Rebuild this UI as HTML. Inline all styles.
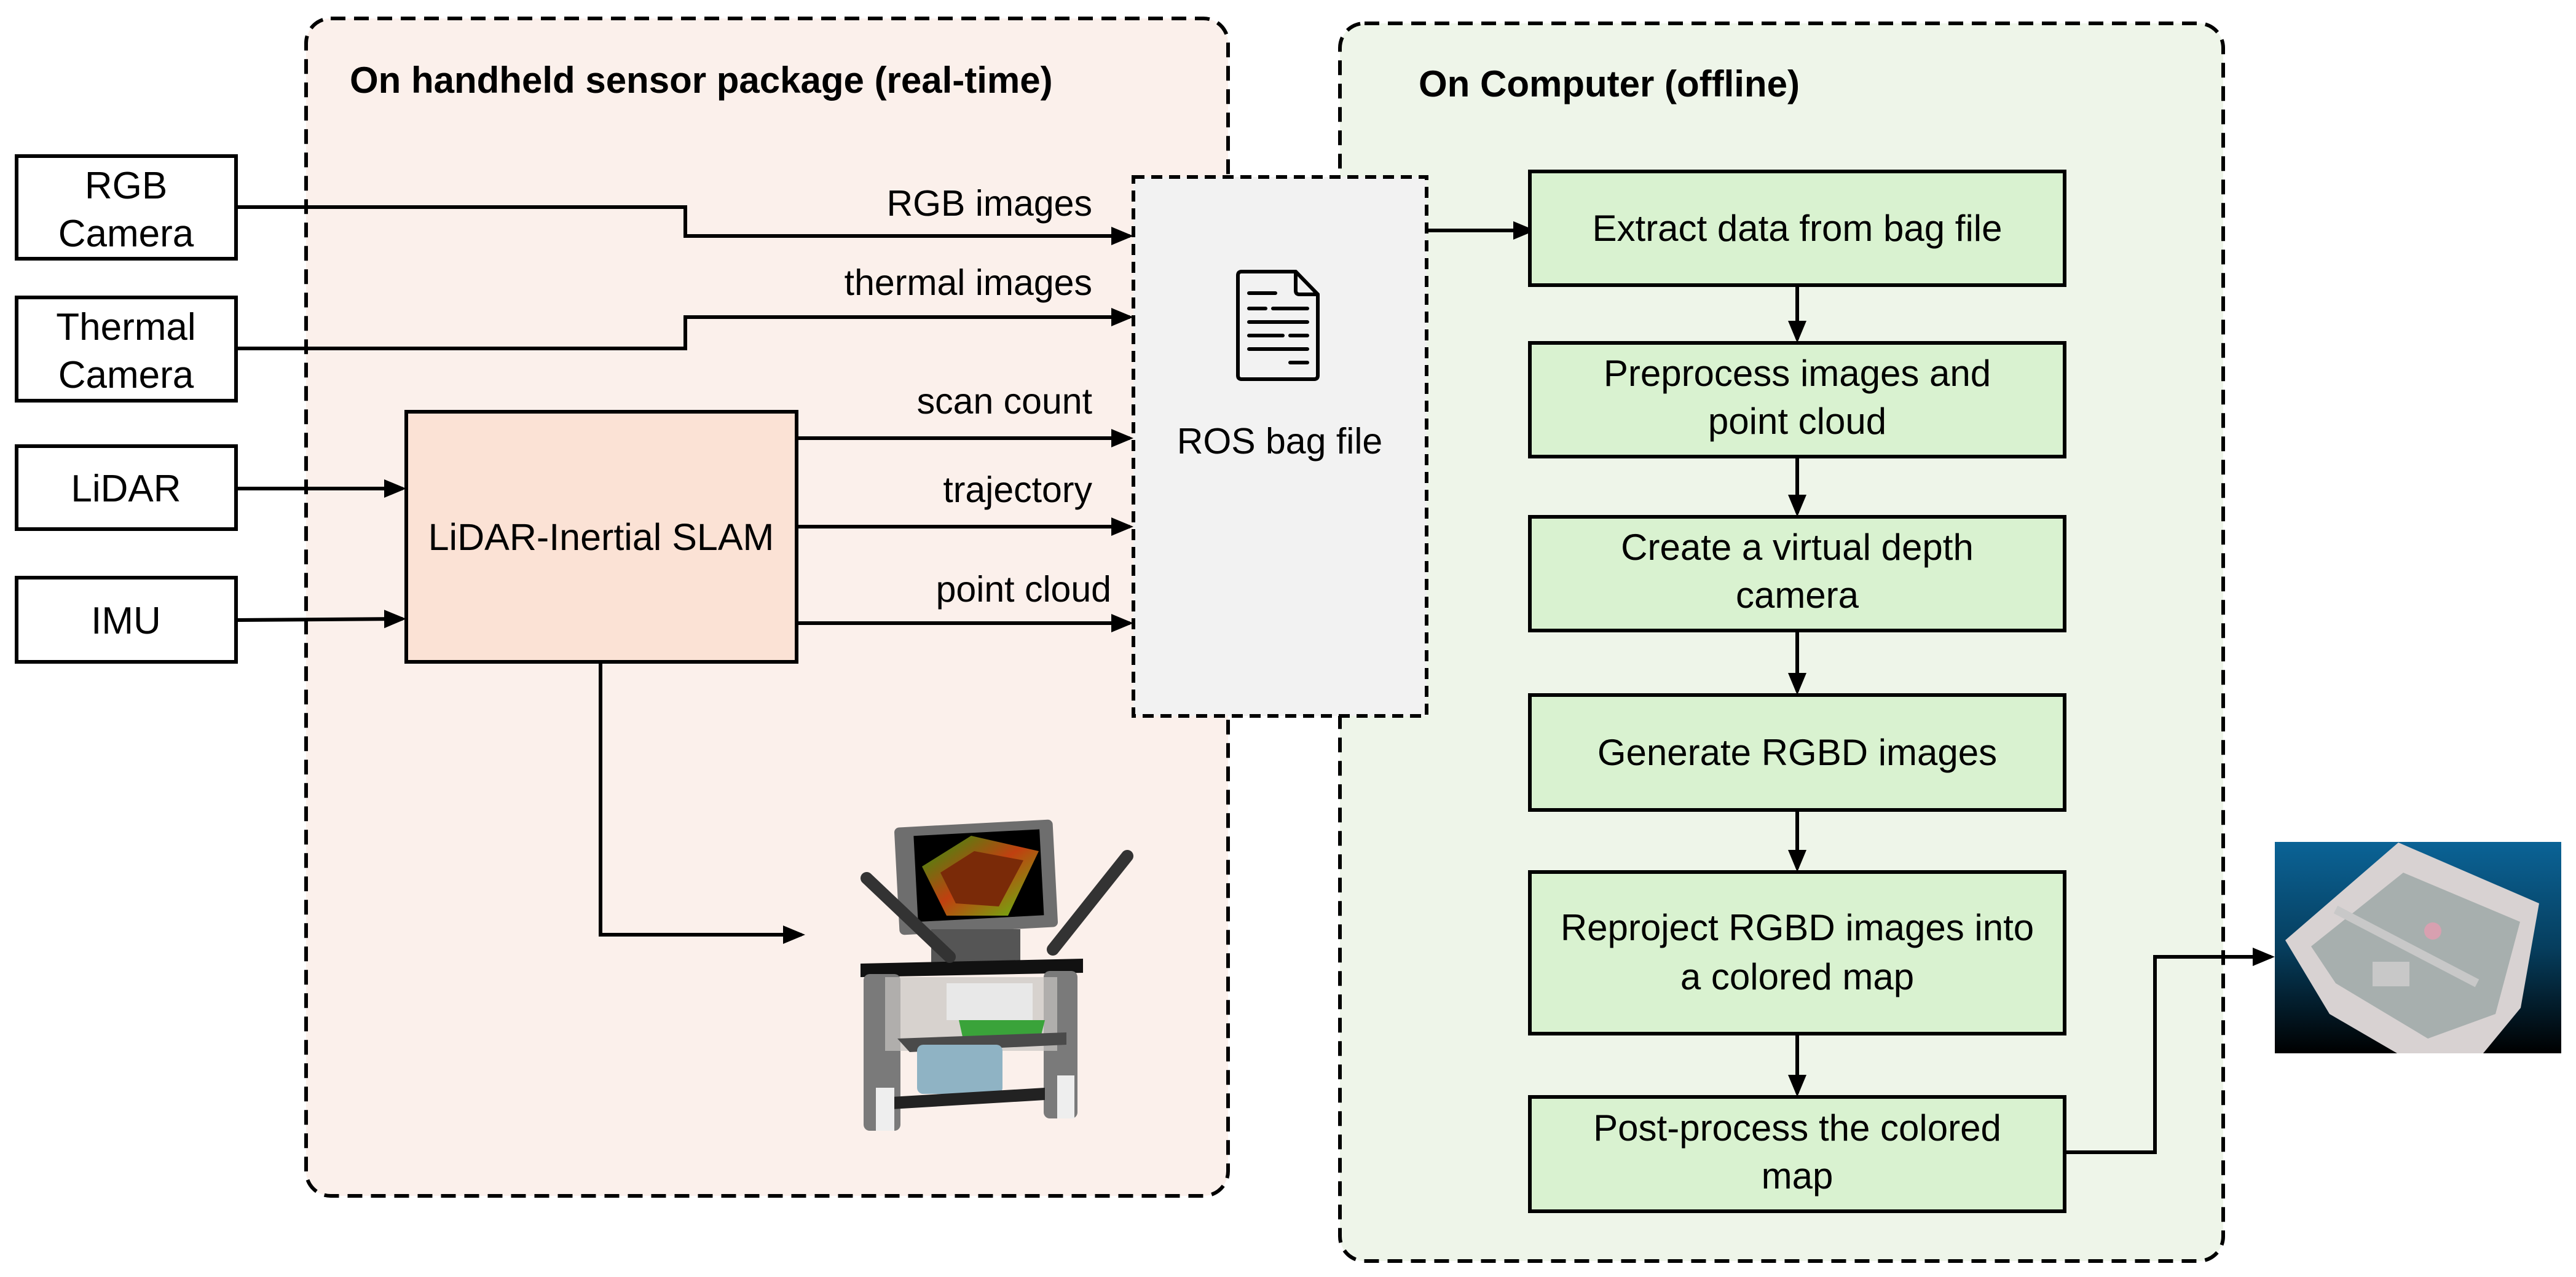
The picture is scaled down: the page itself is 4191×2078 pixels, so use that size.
<!DOCTYPE html>
<html><head><meta charset="utf-8"><style>
html,body{margin:0;padding:0;background:#fff}
svg{display:block}
text{font-family:"Liberation Sans",sans-serif;fill:#000}
</style></head><body>
<svg width="4191" height="2078" viewBox="0 0 4191 2078" xmlns="http://www.w3.org/2000/svg">
<defs>
<marker id="ah" markerWidth="6" markerHeight="6" refX="5" refY="3" orient="auto" markerUnits="strokeWidth">
<path d="M0,0.5 L6,3 L0,5.5 z" fill="#000"/>
</marker>
<linearGradient id="mapbg" x1="0" y1="0" x2="0" y2="1">
<stop offset="0" stop-color="#0b6396"/><stop offset="0.5" stop-color="#063e5e"/><stop offset="1" stop-color="#000"/>
</linearGradient>
<linearGradient id="scr" x1="0" y1="0" x2="1" y2="1">
<stop offset="0" stop-color="#2a9a10"/><stop offset="0.5" stop-color="#c04010"/><stop offset="1" stop-color="#60c010"/>
</linearGradient>
</defs>

<rect x="498" y="30" width="1500" height="1916" rx="40" fill="#fbf0eb" stroke="#000" stroke-width="6" stroke-dasharray="24,14"/>
<rect x="2180" y="38" width="1437" height="2014" rx="40" fill="#eef5e9" stroke="#000" stroke-width="6" stroke-dasharray="24,14"/>
<text x="569" y="151" font-size="60" font-weight="bold">On handheld sensor package (real-time)</text>
<text x="2308" y="157" font-size="60" font-weight="bold">On Computer (offline)</text>

<g fill="#fff" stroke="#000" stroke-width="6">
<rect x="27" y="254" width="357" height="167"/>
<rect x="27" y="484" width="357" height="168"/>
<rect x="27" y="726" width="357" height="135"/>
<rect x="27" y="940" width="357" height="137"/>
</g>
<g font-size="62" text-anchor="middle">
<text x="205" y="323">RGB</text><text x="205" y="401">Camera</text>
<text x="205" y="553">Thermal</text><text x="205" y="631">Camera</text>
<text x="205" y="816">LiDAR</text>
<text x="205" y="1031">IMU</text>
</g>

<rect x="661" y="670" width="635" height="407" fill="#fbe2d5" stroke="#000" stroke-width="6"/>
<text x="978" y="895" font-size="61" text-anchor="middle">LiDAR-Inertial SLAM</text>

<rect x="1844" y="288" width="477" height="877" fill="#f2f2f2" stroke="#000" stroke-width="6" stroke-dasharray="18,11"/>
<g fill="none" stroke="#000" stroke-width="6" stroke-linecap="round" stroke-linejoin="round">
<path d="M2020,442 L2108,442 L2144,479 L2144,611 Q2144,617 2138,617 L2020,617 Q2014,617 2014,611 L2014,448 Q2014,442 2020,442 Z"/>
<path d="M2108,442 L2108,473 Q2108,479 2114,479 L2144,479"/>
<path d="M2032,477 L2075,477 M2032,502 L2059,502 M2071,502 L2127,502 M2032,524 L2127,524 M2032,546 L2087,546 M2099,546 L2127,546 M2032,568 L2127,568 M2099,590 L2127,590"/>
</g>
<text x="2082" y="738" font-size="59" text-anchor="middle">ROS bag file</text>

<g fill="none" stroke="#000" stroke-width="6">
<path d="M384,337 L1115,337 L1115,384 L1838,384" marker-end="url(#ah)"/>
<path d="M384,567 L1115,567 L1115,516 L1838,516" marker-end="url(#ah)"/>
<path d="M1296,713 L1838,713" marker-end="url(#ah)"/>
<path d="M1296,857 L1838,857" marker-end="url(#ah)"/>
<path d="M1296,1014 L1838,1014" marker-end="url(#ah)"/>
<path d="M384,795 L655,795" marker-end="url(#ah)"/>
<path d="M384,1009 L655,1007" marker-end="url(#ah)"/>
<path d="M977,1077 L977,1521 L1304,1521" marker-end="url(#ah)"/>
<path d="M2321,375 L2492,375" marker-end="url(#ah)"/>
</g>
<g font-size="59" text-anchor="end">
<text x="1777" y="351">RGB images</text>
<text x="1777" y="480">thermal images</text>
<text x="1777" y="673">scan count</text>
<text x="1777" y="817">trajectory</text>
<text x="1808" y="979">point cloud</text>
</g>

<g fill="#d9f2d0" stroke="#000" stroke-width="6">
<rect x="2489" y="279" width="870" height="185"/>
<rect x="2489" y="558" width="870" height="185"/>
<rect x="2489" y="841" width="870" height="185"/>
<rect x="2489" y="1131" width="870" height="187"/>
<rect x="2489" y="1419" width="870" height="263"/>
<rect x="2489" y="1785" width="870" height="186"/>
</g>
<g font-size="60" text-anchor="middle">
<text x="2924" y="392">Extract data from bag file</text>
<text x="2924" y="628">Preprocess images and</text><text x="2924" y="706">point cloud</text>
<text x="2924" y="911">Create a virtual depth</text><text x="2924" y="989">camera</text>
<text x="2924" y="1245">Generate RGBD images</text>
<text x="2924" y="1530">Reproject RGBD images into</text><text x="2924" y="1610">a colored map</text>
<text x="2924" y="1856">Post-process the colored</text><text x="2924" y="1934">map</text>
</g>
<g fill="none" stroke="#000" stroke-width="6">
<path d="M2924,464 L2924,552" marker-end="url(#ah)"/>
<path d="M2924,743 L2924,835" marker-end="url(#ah)"/>
<path d="M2924,1026 L2924,1125" marker-end="url(#ah)"/>
<path d="M2924,1318 L2924,1413" marker-end="url(#ah)"/>
<path d="M2924,1682 L2924,1779" marker-end="url(#ah)"/>
<path d="M3359,1875 L3506,1875 L3506,1557 L3695,1557" marker-end="url(#ah)"/>
</g>

<rect x="3701" y="1370" width="466" height="344" fill="url(#mapbg)"/>
<path d="M3718,1530 L3902,1371 L4131,1470 L4101,1640 L4040,1714 L3900,1714 L3790,1650 Z" fill="#d8d2d2"/>
<path d="M3760,1540 L3910,1420 L4100,1500 L4060,1650 L3950,1690 L3800,1600 Z" fill="#a7afae"/>
<path d="M3800,1480 L4030,1600" stroke="#c8c8c8" stroke-width="14"/>
<circle cx="3958" cy="1515" r="14" fill="#d8a0b0"/>
<rect x="3860" y="1565" width="60" height="40" fill="#c8c8c8"/>

<g>
<rect x="1459" y="1340" width="258" height="175" rx="8" fill="#6e6e6e" transform="rotate(-3 1588 1427)"/>
<rect x="1490" y="1355" width="205" height="140" fill="#000" transform="rotate(-3 1588 1427)"/>
<path d="M1500,1410 L1580,1360 L1690,1385 L1640,1490 L1540,1490 Z" fill="url(#scr)"/>
<path d="M1530,1420 L1585,1385 L1665,1400 L1625,1475 L1555,1470 Z" fill="#7a2a08"/>
<rect x="1515" y="1512" width="145" height="60" fill="#555"/>
<path d="M1400,1568 L1762,1560 L1762,1583 L1400,1590 Z" fill="#111"/>
<rect x="1405" y="1585" width="60" height="255" rx="10" fill="#7a7a7a"/>
<rect x="1698" y="1580" width="55" height="240" rx="10" fill="#7a7a7a"/>
<rect x="1440" y="1590" width="280" height="120" fill="#c8c4c2" opacity="0.7"/>
<rect x="1540" y="1600" width="140" height="60" fill="#e8e8e8"/>
<path d="M1560,1660 L1700,1660 L1690,1700 L1570,1705 Z" fill="#3aa33a"/>
<path d="M1460,1690 L1735,1680 L1735,1700 L1480,1712 Z" fill="#4a4a4a"/>
<rect x="1492" y="1700" width="139" height="80" rx="10" fill="#8fb3c4"/>
<path d="M1450,1785 L1700,1770 L1700,1790 L1450,1805 Z" fill="#222"/>
<path d="M1410,1429 L1545,1557" stroke="#333" stroke-width="20" stroke-linecap="round"/>
<path d="M1834,1393 L1713,1545" stroke="#333" stroke-width="20" stroke-linecap="round"/>
<rect x="1425" y="1770" width="30" height="70" fill="#eee"/>
<rect x="1720" y="1750" width="28" height="70" fill="#eee"/>
</g>
</svg>
</body></html>
